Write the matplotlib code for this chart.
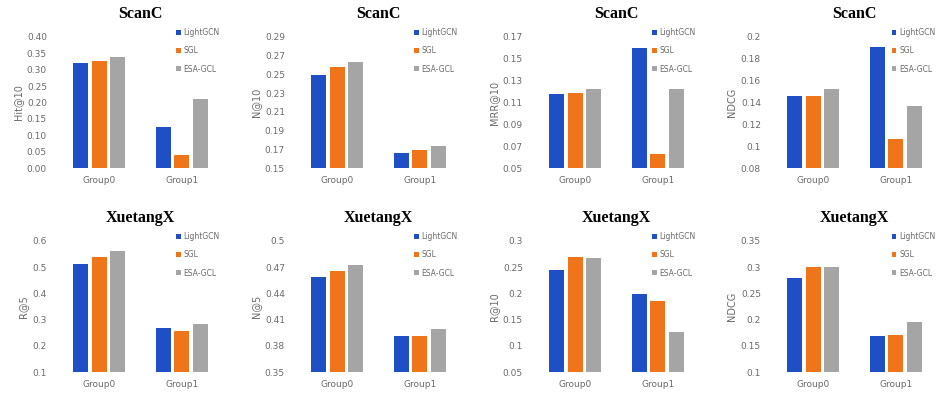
import matplotlib
matplotlib.use("Agg")
import matplotlib.pyplot as plt
import numpy as np

groups = ["Group0", "Group1"]
methods = ["LightGCN", "SGL", "ESA-GCL"]
colors = ["#1F4FC4", "#F0751A", "#A5A5A5"]

titles = ["ScanC", "ScanC", "ScanC", "ScanC",
          "XuetangX", "XuetangX", "XuetangX", "XuetangX"]
ylabels = ["Hit@10", "N@10", "MRR@10", "NDCG",
           "R@5", "N@5", "R@10", "NDCG"]

# values[panel][method] = [Group0, Group1]
p1_lightgcn = [0.320, 0.125]
p1_sgl = [0.328, 0.039]
p1_esa = [0.338, 0.210]

p2_lightgcn = [0.249, 0.166]
p2_sgl = [0.258, 0.169]
p2_esa = [0.263, 0.1735]

p3_lightgcn = [0.1177, 0.1598]
p3_sgl = [0.119, 0.0632]
p3_esa = [0.1223, 0.1223]

p4_lightgcn = [0.1462, 0.1908]
p4_sgl = [0.1462, 0.1069]
p4_esa = [0.1523, 0.137]

p5_lightgcn = [0.513, 0.269]
p5_sgl = [0.538, 0.256]
p5_esa = [0.562, 0.283]

p6_lightgcn = [0.459, 0.3907]
p6_sgl = [0.466, 0.3907]
p6_esa = [0.473, 0.399]

p7_lightgcn = [0.2455, 0.1987]
p7_sgl = [0.269, 0.186]
p7_esa = [0.268, 0.127]

p8_lightgcn = [0.280, 0.168]
p8_sgl = [0.301, 0.171]
p8_esa = [0.301, 0.195]

panel_values = [
    [p1_lightgcn, p1_sgl, p1_esa],
    [p2_lightgcn, p2_sgl, p2_esa],
    [p3_lightgcn, p3_sgl, p3_esa],
    [p4_lightgcn, p4_sgl, p4_esa],
    [p5_lightgcn, p5_sgl, p5_esa],
    [p6_lightgcn, p6_sgl, p6_esa],
    [p7_lightgcn, p7_sgl, p7_esa],
    [p8_lightgcn, p8_sgl, p8_esa],
]

yticks = [
    [0.00, 0.05, 0.10, 0.15, 0.20, 0.25, 0.30, 0.35, 0.40],
    [0.15, 0.17, 0.19, 0.21, 0.23, 0.25, 0.27, 0.29],
    [0.05, 0.07, 0.09, 0.11, 0.13, 0.15, 0.17],
    [0.08, 0.10, 0.12, 0.14, 0.16, 0.18, 0.20],
    [0.1, 0.2, 0.3, 0.4, 0.5, 0.6],
    [0.35, 0.38, 0.41, 0.44, 0.47, 0.50],
    [0.05, 0.10, 0.15, 0.20, 0.25, 0.30],
    [0.10, 0.15, 0.20, 0.25, 0.30, 0.35],
]
ytick_fmt = ["{:.2f}", "{:.2f}", "{:.2f}", "{:g}", "{:g}", "{:g}", "{:g}", "{:g}"]

W, H = 943, 401
fig = plt.figure(figsize=(W / 100, H / 100), dpi=100)

col_lefts = [58, 296, 534, 772]
col_width = 165
rows = [(37, 168), (241, 372)]
legend_x = [1.0, 1.0, 1.0, 1.01]

tick_color = "#6A6A6A"
for i in range(8):
    r, c = divmod(i, 4)
    top, bot = rows[r]
    ax = fig.add_axes([col_lefts[c] / W, 1 - bot / H, col_width / W, (bot - top) / H])
    x = np.arange(len(groups))
    width = 0.18
    offsets = [-0.225, 0.0, 0.225]
    for m in range(3):
        ax.bar(x + offsets[m], panel_values[i][m], width=width, color=colors[m],
               label=methods[m], zorder=3)
    ax.set_xlim(-0.5, 1.5)
    ax.set_ylim(yticks[i][0], yticks[i][-1])
    ax.set_yticks(yticks[i])
    ax.set_yticklabels([ytick_fmt[i].format(v) for v in yticks[i]])
    ax.set_xticks(x)
    ax.set_xticklabels(groups)
    for s in ax.spines.values():
        s.set_visible(False)
    ax.tick_params(axis="both", length=0, labelsize=6.5, colors=tick_color)
    ax.tick_params(axis="x", pad=6)
    ax.tick_params(axis="y", pad=8)
    ax.set_ylabel(ylabels[i], fontsize=7, color=tick_color, labelpad=3)
    ax.set_title(titles[i], fontsize=11.5, fontweight="bold",
                 family="Liberation Serif", pad=14)
    ax.legend(loc="upper right", bbox_to_anchor=(legend_x[c], 1.09), frameon=False,
              fontsize=5.5, handlelength=0.6, handleheight=0.6, handletextpad=0.4,
              labelspacing=1.2, labelcolor=tick_color, borderaxespad=0.0)

fig.savefig("out.png", dpi=100, facecolor="white")
